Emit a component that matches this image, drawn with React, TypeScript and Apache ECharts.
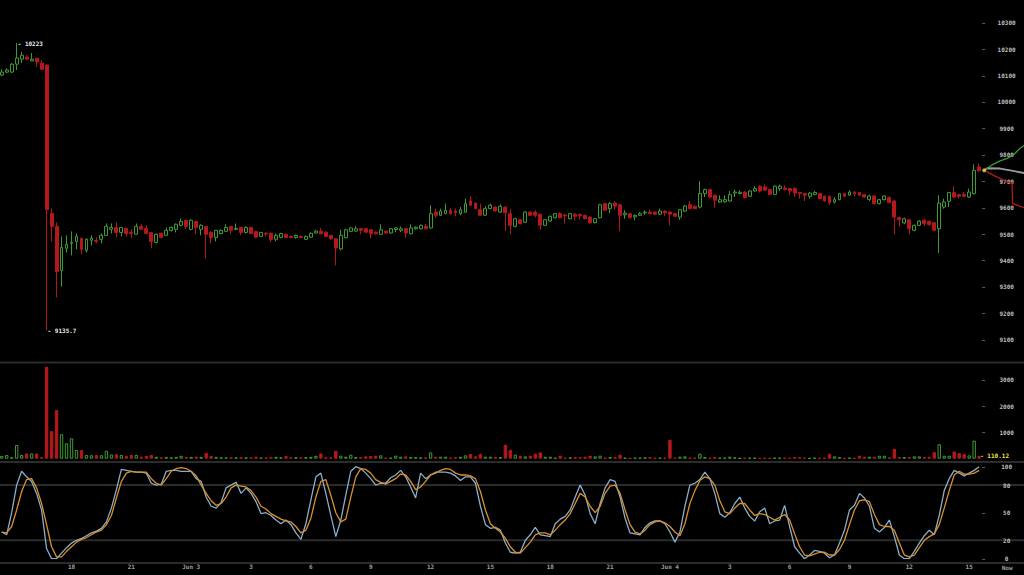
import React, { useEffect, useRef } from "react";
import * as echarts from "echarts";

// ---- time axis ----
const START_DAY = 2;
const START_MINUTE = 14 * 60 + 30; // first candle: Jun 2 14:30
const SLOT_MINUTES = 15;
const FUTURE_SLOTS = 9;

// ---- candles (15 min) ----
const open = [
  10102, 10113, 10113, 10143, 10162, 10170, 10155, 10166, 10147, 10140,
  9578, 9529, 9362, 9446, 9465, 9472, 9484, 9438, 9476, 9476,
  9480, 9495, 9518, 9525, 9506, 9521, 9506, 9499, 9529, 9521,
  9506, 9468, 9502, 9495, 9514, 9518, 9533, 9552, 9518, 9548,
  9518, 9529, 9506, 9487, 9502, 9510, 9529, 9518, 9525, 9506,
  9525, 9510, 9491, 9503, 9503, 9480, 9487, 9499, 9491, 9487,
  9491, 9480, 9488, 9504, 9511, 9507, 9495, 9482, 9444, 9486,
  9510, 9511, 9520, 9520, 9516, 9507, 9499, 9511, 9504, 9517,
  9514, 9520, 9501, 9520, 9520, 9529, 9523, 9583, 9571, 9577,
  9590, 9587, 9577, 9583, 9625, 9617, 9592, 9571, 9596, 9602,
  9583, 9602, 9577, 9529, 9554, 9545, 9583, 9583, 9575, 9533,
  9549, 9562, 9577, 9572, 9558, 9575, 9574, 9571, 9564, 9543,
  9562, 9615, 9596, 9617, 9611, 9573, 9577, 9565, 9571, 9580,
  9583, 9583, 9575, 9587, 9583, 9577, 9564, 9587, 9611, 9605,
  9602, 9653, 9668, 9647, 9621, 9622, 9625, 9655, 9653, 9659,
  9643, 9663, 9681, 9678, 9668, 9650, 9672, 9674, 9672, 9672,
  9657, 9653, 9643, 9650, 9653, 9643, 9643, 9621, 9630, 9653,
  9647, 9659, 9657, 9649, 9631, 9644, 9615, 9630, 9638, 9625,
  9562, 9542, 9554, 9514, 9533, 9552, 9548, 9543, 9520, 9602,
  9624, 9657, 9649, 9650, 9640, 9653, 9754,
];
const close = [
  10113, 10121, 10143, 10166, 10177, 10162, 10162, 10151, 10124, 9593,
  9529, 9358, 9449, 9461, 9468, 9491, 9442, 9480, 9484, 9472,
  9495, 9529, 9525, 9506, 9525, 9502, 9502, 9529, 9518, 9502,
  9472, 9499, 9487, 9514, 9525, 9537, 9548, 9529, 9552, 9525,
  9533, 9499, 9487, 9514, 9514, 9525, 9514, 9521, 9506, 9525,
  9502, 9488, 9506, 9500, 9479, 9495, 9502, 9487, 9487, 9495,
  9487, 9491, 9503, 9511, 9501, 9491, 9482, 9447, 9495, 9516,
  9523, 9520, 9514, 9507, 9501, 9501, 9516, 9504, 9520, 9523,
  9520, 9504, 9523, 9526, 9533, 9520, 9577, 9571, 9587, 9590,
  9577, 9581, 9592, 9615, 9609, 9596, 9571, 9596, 9609, 9587,
  9605, 9581, 9533, 9558, 9539, 9583, 9571, 9571, 9533, 9554,
  9567, 9577, 9562, 9569, 9577, 9567, 9569, 9558, 9542, 9558,
  9611, 9590, 9615, 9606, 9571, 9579, 9562, 9571, 9577, 9583,
  9577, 9575, 9587, 9580, 9575, 9567, 9592, 9606, 9596, 9596,
  9653, 9668, 9640, 9628, 9630, 9630, 9649, 9659, 9658, 9638,
  9663, 9672, 9663, 9666, 9650, 9681, 9681, 9668, 9663, 9655,
  9653, 9647, 9655, 9657, 9634, 9625, 9619, 9630, 9653, 9643,
  9659, 9653, 9647, 9640, 9644, 9615, 9630, 9644, 9619, 9564,
  9554, 9558, 9520, 9533, 9549, 9539, 9535, 9514, 9617, 9621,
  9657, 9640, 9643, 9643, 9659, 9741, 9739,
];
const low = [
  10098, 10109, 10109, 10121, 10147, 10162, 10155, 10132, 10124, 9135.7,
  9472, 9260, 9301, 9430, 9419, 9442, 9423, 9430, 9457, 9465,
  9465, 9495, 9502, 9487, 9491, 9491, 9484, 9499, 9518, 9499,
  9446, 9465, 9484, 9495, 9510, 9506, 9529, 9518, 9514, 9499,
  9495, 9408, 9465, 9472, 9499, 9510, 9499, 9514, 9495, 9502,
  9499, 9484, 9489, 9491, 9470, 9472, 9484, 9484, 9484, 9483,
  9484, 9477, 9485, 9502, 9499, 9488, 9478, 9381, 9438, 9483,
  9507, 9509, 9499, 9505, 9484, 9498, 9497, 9501, 9501, 9507,
  9507, 9486, 9499, 9517, 9518, 9518, 9521, 9562, 9569, 9575,
  9574, 9567, 9571, 9580, 9607, 9594, 9569, 9569, 9594, 9585,
  9580, 9511, 9499, 9525, 9536, 9542, 9569, 9562, 9516, 9530,
  9546, 9559, 9559, 9540, 9556, 9552, 9554, 9556, 9540, 9540,
  9559, 9588, 9579, 9592, 9511, 9558, 9559, 9552, 9568, 9573,
  9575, 9572, 9572, 9567, 9533, 9565, 9554, 9584, 9594, 9594,
  9597, 9640, 9637, 9600, 9618, 9619, 9622, 9640, 9650, 9635,
  9640, 9660, 9657, 9663, 9647, 9647, 9663, 9665, 9647, 9640,
  9634, 9625, 9634, 9647, 9631, 9622, 9611, 9615, 9628, 9640,
  9644, 9643, 9644, 9637, 9625, 9611, 9612, 9627, 9616, 9499,
  9529, 9537, 9499, 9510, 9530, 9530, 9532, 9510, 9428, 9596,
  9602, 9637, 9634, 9640, 9637, 9650, 9737,
];
const high = [
  10124, 10128, 10147, 10223, 10189, 10177, 10185, 10166, 10158, 10140,
  9597, 9544, 9491, 9495, 9510, 9502, 9484, 9484, 9495, 9487,
  9502, 9540, 9540, 9544, 9525, 9521, 9518, 9540, 9537, 9533,
  9506, 9502, 9506, 9525, 9529, 9540, 9559, 9552, 9556, 9548,
  9537, 9529, 9510, 9514, 9518, 9537, 9529, 9540, 9525, 9529,
  9527, 9512, 9508, 9507, 9505, 9502, 9505, 9502, 9494, 9498,
  9495, 9494, 9506, 9516, 9523, 9510, 9497, 9484, 9516, 9520,
  9526, 9529, 9522, 9522, 9518, 9510, 9537, 9514, 9523, 9526,
  9529, 9522, 9537, 9529, 9536, 9539, 9609, 9596, 9596, 9615,
  9598, 9596, 9602, 9634, 9643, 9620, 9615, 9605, 9615, 9605,
  9612, 9605, 9596, 9562, 9557, 9586, 9586, 9590, 9577, 9557,
  9570, 9580, 9583, 9578, 9580, 9580, 9578, 9573, 9567, 9561,
  9614, 9618, 9621, 9625, 9614, 9590, 9580, 9574, 9583, 9590,
  9592, 9586, 9596, 9590, 9586, 9580, 9595, 9609, 9625, 9608,
  9700, 9672, 9671, 9650, 9647, 9647, 9663, 9668, 9665, 9662,
  9666, 9681, 9684, 9688, 9671, 9684, 9688, 9684, 9675, 9678,
  9660, 9656, 9659, 9663, 9656, 9646, 9646, 9639, 9656, 9656,
  9666, 9662, 9660, 9652, 9649, 9647, 9633, 9647, 9643, 9628,
  9567, 9562, 9557, 9536, 9552, 9558, 9551, 9545, 9647, 9634,
  9660, 9681, 9653, 9659, 9672, 9764, 9767,
];
const volume = [
  100, 140, 55, 520, 140, 200, 200, 200, 60, 3500,
  1050, 1850, 930, 585, 775, 330, 330, 140, 130, 140,
  130, 300, 160, 170, 140, 110, 140, 140, 80, 110,
  140, 70, 50, 70, 50, 70, 110, 70, 70, 80,
  70, 220, 110, 70, 50, 50, 60, 50, 60, 50,
  50, 80, 40, 50, 70, 70, 50, 100, 50, 60,
  50, 60, 70, 110, 200, 60, 50, 300, 114, 76,
  152, 63, 63, 89, 101, 114, 127, 38, 38, 114,
  76, 89, 63, 63, 51, 51, 240, 76, 76, 76,
  38, 63, 76, 127, 177, 89, 177, 76, 76, 63,
  63, 532, 342, 152, 114, 89, 114, 190, 240, 76,
  76, 38, 114, 38, 51, 63, 63, 76, 114, 89,
  114, 38, 63, 63, 152, 38, 25, 38, 38, 51,
  63, 38, 38, 38, 722, 38, 76, 89, 38, 38,
  190, 63, 38, 63, 38, 38, 76, 51, 25, 38,
  38, 38, 25, 25, 25, 38, 38, 38, 38, 63,
  63, 38, 25, 38, 25, 25, 190, 89, 63, 25,
  38, 25, 113, 75, 75, 75, 113, 113, 50, 375,
  63, 63, 63, 88, 88, 63, 75, 250, 550, 113,
  113, 275, 213, 175, 125, 688, 110.12,
];
const stochK = [
  29, 26, 50, 80, 95, 89, 84, 71, 53, 11,
  0, 0, 6, 12, 17, 20, 22, 25, 28, 30,
  33, 40, 55, 75, 97, 96, 95, 94, 94, 93,
  82, 80, 81, 95, 96, 96, 95, 95, 95, 87,
  84, 67, 57, 55, 61, 77, 80, 83, 71, 77,
  71, 62, 49, 50, 47, 42, 38, 42, 37, 28,
  21, 38, 64, 89, 93, 71, 47, 24, 42, 69,
  95, 100, 98, 93, 87, 80, 82, 82, 88, 91,
  96, 89, 78, 66, 93, 87, 91, 94, 94, 94,
  93, 90, 85, 89, 89, 82, 57, 37, 33, 34,
  31, 17, 7, 6, 7, 20, 26, 34, 26, 25,
  24, 38, 43, 46, 53, 67, 80, 69, 49, 38,
  60, 77, 86, 84, 67, 44, 28, 27, 26, 34,
  39, 41, 41, 38, 29, 18, 29, 57, 80, 82,
  86, 94, 87, 71, 49, 45, 50, 60, 67, 55,
  46, 41, 51, 55, 38, 41, 42, 58, 35, 13,
  6, 0, 4, 9, 8, 6, 1, 4, 17, 31,
  53, 58, 71, 66, 57, 33, 29, 34, 42, 24,
  4, 0, 0, 8, 17, 25, 31, 26, 47, 74,
  87, 96, 93, 90, 93, 96, 100,
];
const stochD = [
  29, 28, 35, 53, 73, 86, 87, 77, 60, 37,
  13, 2, 2, 8, 13, 18, 21, 23, 26, 29,
  31, 37, 47, 66, 84, 93, 95, 94, 94, 94,
  87, 82, 80, 87, 95, 98, 99, 98, 95, 90,
  80, 71, 63, 58, 60, 67, 77, 80, 79, 78,
  74, 67, 57, 54, 49, 46, 43, 41, 40, 35,
  28, 31, 44, 67, 84, 86, 69, 50, 40, 43,
  67, 89, 98, 97, 93, 86, 83, 81, 84, 87,
  92, 91, 84, 75, 78, 84, 91, 93, 96, 98,
  97, 93, 91, 91, 90, 87, 73, 53, 38, 33,
  29, 22, 13, 7, 6, 12, 18, 26, 28, 28,
  26, 31, 37, 42, 49, 60, 71, 67, 57, 50,
  57, 71, 79, 80, 71, 53, 37, 29, 27, 31,
  37, 40, 41, 39, 35, 29, 25, 38, 60, 74,
  85, 89, 87, 80, 63, 51, 49, 55, 60, 60,
  53, 47, 49, 48, 45, 42, 45, 48, 42, 27,
  13, 4, 3, 5, 7, 7, 4, 4, 10, 20,
  37, 53, 63, 64, 62, 48, 37, 35, 35, 31,
  17, 4, 2, 4, 12, 20, 24, 27, 37, 55,
  74, 91, 95, 92, 92, 93, 96,
];

// ---- projection from the last candle (slot index, price) ----
const projUp = [[197, 9741], [197.6, 9749], [198.8, 9764], [200.2, 9777], [201.6, 9786], [202.8, 9798], [204.2, 9825], [205.3, 9838]];
const projMid = [[197, 9741], [197.6, 9749], [200.2, 9748], [202.8, 9739], [205.3, 9730]];
const projDown = [[197, 9741], [199, 9721], [201.6, 9697], [202.6, 9693], [202.7, 9616], [203.2, 9612], [205.3, 9598]];
const lastDot = [[197, 9741]];

// ---- tick labels ----
const priceTicks = [9100, 9200, 9300, 9400, 9500, 9600, 9700, 9800, 9900, 10000, 10100, 10200, 10300];
const volumeTicks = [1000, 2000, 3000];
const stochLabels = [0, 20, 50, 80, 100];
const stochTickMarks = [0, 50, 100];
const stochLevels = [80, 20];
const nowLabel = "Now";

const GREEN = "#3f9a33";
const RED = "#b3191c";
const BLUE = "#8aaec8";
const ORANGE = "#d8902d";
const FONT = "DejaVu Sans Mono";

const N = open.length;
const pad = (n: number) => (n < 10 ? "0" + n : "" + n);
const timeLabels: string[] = [];
for (let i = 0; i < N; i++) {
  const t = START_MINUTE + i * SLOT_MINUTES;
  const day = START_DAY + Math.floor(t / 1440);
  const m = t % 1440;
  timeLabels.push(`Jun ${day} ${pad(Math.floor(m / 60))}:${pad(m % 60)}`);
}

export default function App() {
  const ref = useRef<HTMLDivElement>(null);
  useEffect(() => {
    document.body.style.margin = "0";
    document.body.style.background = "#000";
    const chart = echarts.init(ref.current!, null, { renderer: "svg" });
    const gridLeft = -0.8;
    const slotW = 4.987;
    const gridWidth = slotW * N;
    const gridRight = gridLeft + gridWidth;
    const priceBox = { top: -3.7, height: 369.8 };
    const grids = [
      { left: gridLeft, width: gridWidth, ...priceBox },
      { left: gridLeft, width: gridWidth, top: 362, height: 96.7 },
      { left: gridLeft, width: gridWidth, top: 466.7, height: 92 },
      { left: gridLeft, width: slotW * (N + FUTURE_SLOTS), ...priceBox },
    ].map((g) => ({ ...g, containLabel: false, outerBoundsMode: "none", show: false }));

    const labelStyle = {
      color: "#bdbdbd",
      fontSize: 6,
      fontFamily: FONT,
      fontWeight: "bold" as const,
      align: "center" as const,
      margin: 25,
      formatter: (v: number) => String(v),
    };
    const yBase = { position: "right", axisLine: { show: false }, splitLine: { show: false }, axisTick: { show: false } };

    const catAxis = (gridIndex: number, showLabel: boolean) => ({
      type: "category",
      gridIndex,
      data: timeLabels,
      boundaryGap: true,
      axisLine: { show: false },
      axisTick: { show: false },
      splitLine: { show: false },
      axisLabel: showLabel
        ? {
            show: true,
            color: "#a0a0a0",
            fontSize: 6,
            fontFamily: FONT,
            fontWeight: "bold",
            margin: 5,
            interval: (index: number, val: string) => {
              if (index < 8) return false;
              const hm = val.split(" ")[2];
              const [h, m] = hm.split(":").map(Number);
              return m === 0 && h % 3 === 0;
            },
            formatter: (val: string) => {
              const parts = val.split(" ");
              const h = Number(parts[2].split(":")[0]);
              return h === 0 ? `${parts[0]} ${parts[1]}` : String(h);
            },
          }
        : { show: false },
    });

    const candleData = open.map((o, i) => [o, close[i], low[i], high[i]]);
    const volData = volume.map((v, i) => {
      const up = close[i] >= open[i];
      return {
        value: v,
        itemStyle: up
          ? { color: "rgba(0,0,0,0)", borderColor: GREEN, borderWidth: 1 }
          : { color: RED, borderColor: RED, borderWidth: 1 },
      };
    });

    const projLine = (data: number[][], color: string, width: number) => ({
      type: "line",
      xAxisIndex: 3,
      yAxisIndex: 3,
      data,
      symbol: "none",
      lineStyle: { color, width },
      z: 3,
    });

    chart.setOption({
      animation: false,
      backgroundColor: "#000",
      grid: grids,
      xAxis: [
        catAxis(0, false),
        catAxis(1, false),
        catAxis(2, true),
        { type: "value", gridIndex: 3, min: -0.5, max: N + FUTURE_SLOTS - 0.5, show: false },
      ],
      yAxis: [
        { ...yBase, type: "value", gridIndex: 0, min: 9000, max: 10400, axisLabel: { ...labelStyle, customValues: priceTicks } },
        { ...yBase, type: "value", gridIndex: 1, min: 0, max: 3677, axisLabel: { ...labelStyle, customValues: volumeTicks } },
        { ...yBase, type: "value", gridIndex: 2, min: 0, max: 100, axisLabel: { ...labelStyle, customValues: stochLabels } },
        { type: "value", gridIndex: 3, min: 9000, max: 10400, show: false },
      ],
      series: [
        {
          type: "candlestick",
          xAxisIndex: 0,
          yAxisIndex: 0,
          data: candleData,
          barWidth: 3.4,
          itemStyle: { color: "#000", color0: RED, borderColor: GREEN, borderColor0: RED, borderWidth: 1 },
          markPoint: {
            symbol: "circle",
            symbolSize: 0,
            data: [
              { type: "max", valueDim: "highest" },
              { type: "min", valueDim: "lowest" },
            ],
            label: {
              show: true,
              position: "right",
              distance: 1,
              color: "#e6e6e6",
              fontSize: 6,
              fontFamily: FONT,
              fontWeight: "bold",
              formatter: (p: any) => "- " + p.value,
            },
          },
        },
        {
          type: "bar",
          xAxisIndex: 1,
          yAxisIndex: 1,
          data: volData,
          barWidth: 3.4,
          markPoint: {
            symbol: "circle",
            symbolSize: 0,
            data: [{ coord: [N - 1, volume[N - 1]], value: volume[N - 1] }],
            label: {
              show: true,
              position: "right",
              distance: 1,
              color: "#f0e23c",
              fontSize: 6,
              fontFamily: FONT,
              fontWeight: "bold",
              formatter: (p: any) => "- " + p.value,
            },
          },
        },
        {
          type: "line",
          xAxisIndex: 2,
          yAxisIndex: 2,
          data: stochK,
          symbol: "none",
          lineStyle: { color: BLUE, width: 1.3 },
          z: 3,
        },
        {
          type: "line",
          xAxisIndex: 2,
          yAxisIndex: 2,
          data: stochD,
          symbol: "none",
          lineStyle: { color: ORANGE, width: 1.3 },
          z: 4,
        },
        projLine(projMid, "#9a9a9a", 1.8),
        projLine(projUp, GREEN, 1.3),
        projLine(projDown, RED, 1.3),
        {
          type: "scatter",
          xAxisIndex: 3,
          yAxisIndex: 3,
          data: lastDot,
          symbol: "circle",
          symbolSize: 4,
          itemStyle: { color: "#f2e23a" },
          z: 5,
        },
      ],
    });

    // axis tick dashes, level lines and panel separators, placed through the axes' scales
    const tickGroups: [number, number[]][] = [
      [0, priceTicks],
      [1, volumeTicks],
      [2, stochTickMarks],
    ];
    const tickLines: any[] = [];
    tickGroups.forEach(([axis, values]) => {
      values.forEach((v) => {
        const y = Math.round(chart.convertToPixel({ yAxisIndex: axis }, v) as number) + 0.5;
        tickLines.push({
          type: "line",
          shape: { x1: gridRight + 0.5, y1: y, x2: gridRight + 3.5, y2: y },
          style: { stroke: "#5a5a5a", lineWidth: 1 },
        });
      });
    });
    const levelYs = stochLevels.map((v) => chart.convertToPixel({ yAxisIndex: 2 }, v) as number);
    const yBottom = chart.convertToPixel({ yAxisIndex: 2 }, 0) as number;
    chart.setOption({
      graphic: [
        { type: "rect", shape: { x: 0, y: 361.5, width: 1024, height: 2 }, style: { fill: "#2b2b2b" }, z: -10 },
        { type: "rect", shape: { x: 0, y: 461, width: 1024, height: 2 }, style: { fill: "#2b2b2b" }, z: -10 },
        { type: "rect", shape: { x: 0, y: 562, width: 1024, height: 2 }, style: { fill: "#2b2b2b" }, z: -10 },
        ...levelYs.map((y) => ({
          type: "rect",
          shape: { x: 0, y: y - 1, width: 1024, height: 2 },
          style: { fill: "#2b2b2b" },
          z: -10,
        })),
        ...tickLines,
        {
          type: "text",
          x: gridRight + 25.5,
          y: yBottom + 9,
          style: { text: nowLabel, fill: "#a0a0a0", font: `bold 6px "${FONT}"`, align: "center", verticalAlign: "middle" },
        },
      ],
    });
    return () => chart.dispose();
  }, []);
  return <div ref={ref} style={{ width: 1024, height: 575, background: "#000" }} />;
}
